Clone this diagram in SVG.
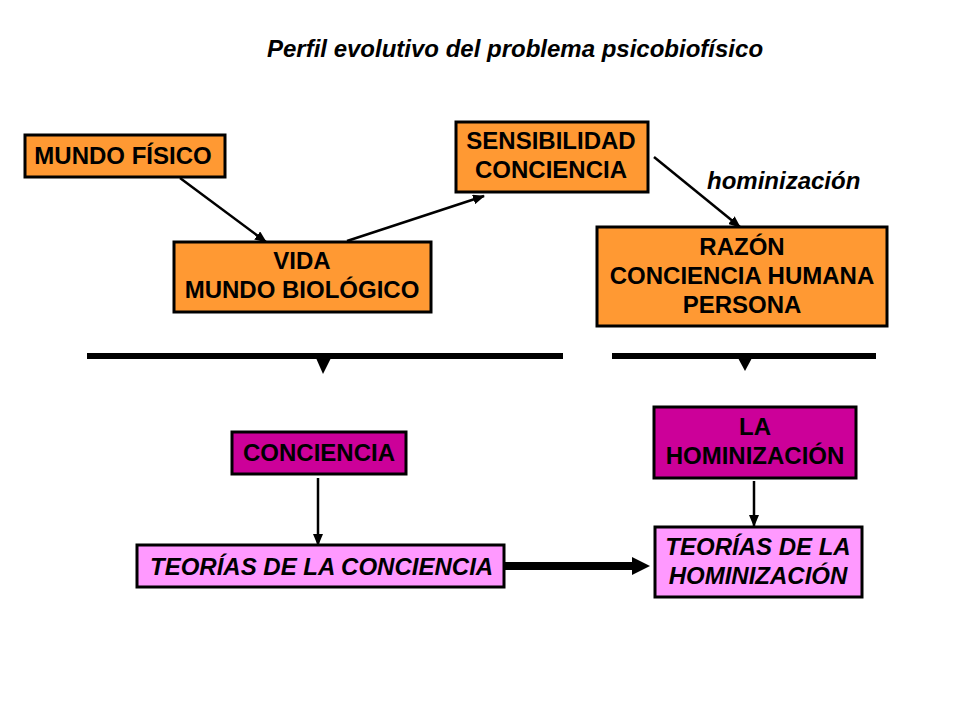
<svg xmlns="http://www.w3.org/2000/svg" width="960" height="720" viewBox="0 0 960 720">
<defs>
<style>
.t{font-family:"Liberation Sans",Arial,sans-serif;font-weight:bold;font-size:24px;fill:#000;}
.i{font-style:italic;}
.m{text-anchor:middle;}
.or{fill:#FF9933;stroke:#000;stroke-width:3;}
.mg{fill:#CC0099;stroke:#000;stroke-width:3;}
.pk{fill:#FF99FF;stroke:#000;stroke-width:3;}
.ln{stroke:#000;stroke-width:2.5;fill:none;marker-end:url(#ah);}
.bar{stroke:#000;stroke-width:6;}
</style>
<marker id="ah" markerUnits="userSpaceOnUse" markerWidth="12" markerHeight="10" viewBox="0 0 12 10" refX="11" refY="5" orient="auto">
<path d="M0,0 L12,5 L0,10 z" fill="#000"/>
</marker>
</defs>
<rect width="960" height="720" fill="#fff"/>
<text class="t i m" x="515" y="57">Perfil evolutivo del problema psicobiofísico</text>

<g id="mundo-fisico"><rect class="or" x="25" y="135" width="200" height="42"/><text class="t m" x="123" y="164">MUNDO FÍSICO</text></g>
<g id="vida"><rect class="or" x="174" y="242" width="257" height="70"/><text class="t m" x="302" y="269">VIDA</text><text class="t m" x="302" y="298">MUNDO BIOLÓGICO</text></g>
<g id="sensibilidad"><rect class="or" x="456" y="122" width="192" height="70"/><text class="t m" x="551" y="149">SENSIBILIDAD</text><text class="t m" x="551" y="178">CONCIENCIA</text></g>
<g id="razon"><rect class="or" x="597" y="227" width="290" height="99"/><text class="t m" x="742" y="255">RAZÓN</text><text class="t m" x="742" y="284">CONCIENCIA HUMANA</text><text class="t m" x="742" y="313">PERSONA</text></g>
<g id="label-hominizacion"><text class="t i" x="707" y="189">hominización</text></g>

<g id="bars">
<line class="bar" x1="87" y1="356" x2="563" y2="356"/>
<path d="M316,358 L331,358 L323,374 z" fill="#000"/>
<line class="bar" x1="612" y1="356" x2="876" y2="356"/>
<path d="M738,358 L752,358 L745,371 z" fill="#000"/>
</g>

<g id="conciencia"><rect class="mg" x="232" y="432" width="174" height="42"/><text class="t m" x="319" y="461">CONCIENCIA</text></g>
<g id="la-hominizacion"><rect class="mg" x="654" y="407" width="202" height="71"/><text class="t m" x="755" y="435">LA</text><text class="t m" x="755" y="464">HOMINIZACIÓN</text></g>
<g id="teorias-conciencia"><rect class="pk" x="137" y="545" width="367" height="42"/><text class="t i" x="150" y="575">TEORÍAS DE LA CONCIENCIA</text></g>
<g id="teorias-hominizacion"><rect class="pk" x="655" y="527" width="207" height="70"/><text class="t i m" x="758" y="555">TEORÍAS DE LA</text><text class="t i m" x="758" y="584">HOMINIZACIÓN</text></g>

<g id="connectors">
<line class="ln" x1="180" y1="178" x2="266" y2="242"/>
<line class="ln" x1="347" y1="241" x2="484" y2="196"/>
<line class="ln" x1="654" y1="157" x2="740" y2="227"/>
<line class="ln" x1="318" y1="478" x2="318" y2="545"/>
<line class="ln" x1="754" y1="481" x2="754" y2="526"/>
<line x1="505" y1="566" x2="634" y2="566" stroke="#000" stroke-width="8"/>
<path d="M632,557 L650,566 L632,575 z" fill="#000"/>
</g>
</svg>
